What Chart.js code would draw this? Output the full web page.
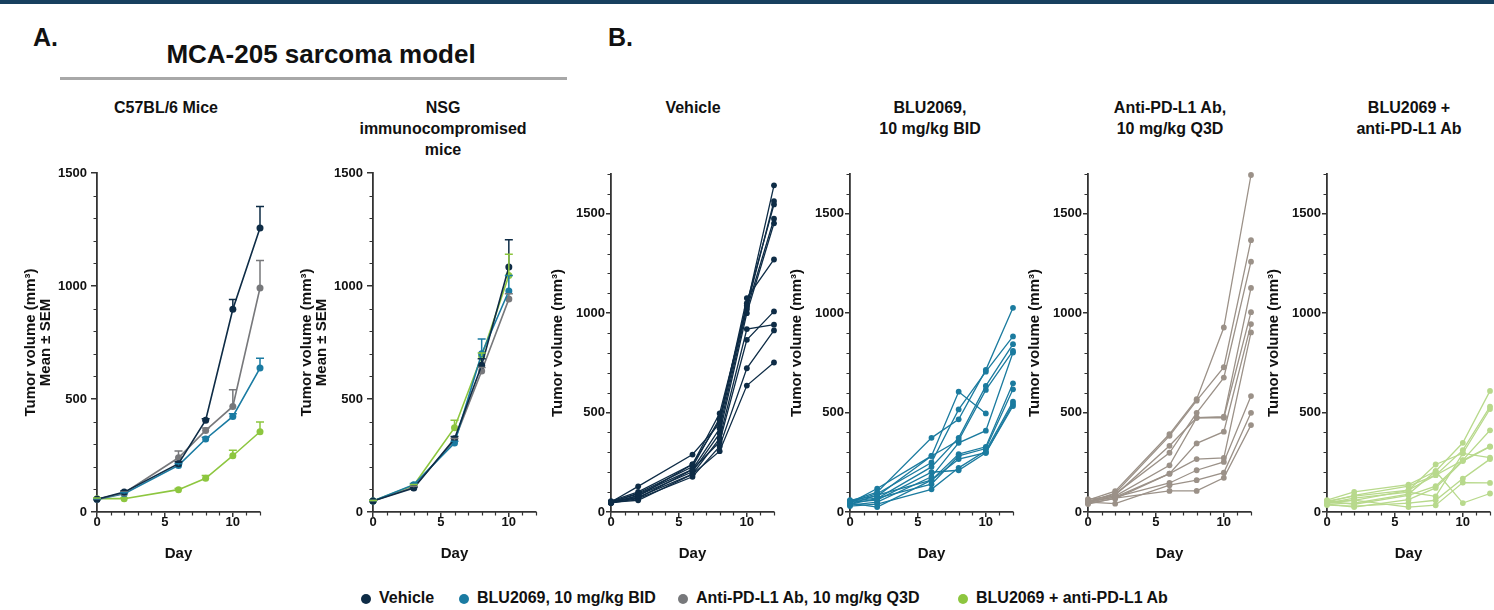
<!DOCTYPE html>
<html>
<head>
<meta charset="utf-8">
<script src="https://cdn.jsdelivr.net/npm/chart.js@4.4.1/dist/chart.umd.min.js"></script>
<style>
  body { margin: 0; background: #fff; font-family: 'Liberation Sans', Arial, sans-serif; }
  #page { position: relative; width: 1494px; height: 610px; overflow: hidden; background: #fff; }
  #band { position: absolute; left: 0; top: 0; width: 1494px; height: 4px; background: #17405f; }
  .panel { position: absolute; font-weight: bold; font-size: 25px; color: #111; line-height: 24px; top: 25px; }
  #model { position: absolute; left: 321px; top: 41px; transform: translateX(-50%); font-weight: bold; font-size: 26px; color: #111; white-space: nowrap; line-height: 26px; }
  #rule { position: absolute; left: 60px; top: 77px; width: 507px; height: 3px; background: #a8a8a8; }
  .hd { position: absolute; top: 97px; transform: translateX(-50%); font-weight: bold; font-size: 16px; color: #111; text-align: center; line-height: 21px; white-space: nowrap; }
  canvas.c { position: absolute; top: 150px; }
  .lg { position: absolute; top: 589px; font-weight: bold; font-size: 16px; color: #111; line-height: 18px; white-space: nowrap; }
  .lg span.dot { display: inline-block; width: 10px; height: 10px; border-radius: 50%; margin-right: 8px; vertical-align: -1px; }
</style>
</head>
<body>
<div id="page">
  <div id="band"></div>
  <div class="panel" style="left:33px">A.</div>
  <div class="panel" style="left:608px">B.</div>
  <div id="model">MCA-205 sarcoma model</div>
  <div id="rule"></div>

  <div class="hd" style="left:166px">C57BL/6 Mice</div>
  <div class="hd" style="left:443px">NSG<br>immunocompromised<br>mice</div>
  <div class="hd" style="left:693px">Vehicle</div>
  <div class="hd" style="left:930px">BLU2069,<br>10 mg/kg BID</div>
  <div class="hd" style="left:1170px">Anti-PD-L1 Ab,<br>10 mg/kg Q3D</div>
  <div class="hd" style="left:1409px">BLU2069 +<br>anti-PD-L1 Ab</div>

  <canvas class="c" id="chA1"></canvas>
  <canvas class="c" id="chA2"></canvas>
  <canvas class="c" id="chB1"></canvas>
  <canvas class="c" id="chB2"></canvas>
  <canvas class="c" id="chB3"></canvas>
  <canvas class="c" id="chB4"></canvas>

  <div class="lg" style="left:361px"><span class="dot" style="background:#0e2c46"></span>Vehicle</div>
  <div class="lg" style="left:459px"><span class="dot" style="background:#1a7ba2"></span>BLU2069, 10 mg/kg BID</div>
  <div class="lg" style="left:678px"><span class="dot" style="background:#77787b"></span>Anti-PD-L1 Ab, 10 mg/kg Q3D</div>
  <div class="lg" style="left:958px"><span class="dot" style="background:#8dc63f"></span>BLU2069 + anti-PD-L1 Ab</div>
</div>

<script>
// ---- data ----
const xTickValues = [0, 5, 10];
const yTickValues = [0, 500, 1000, 1500];

const daysC57 = [0, 2, 6, 8, 10, 12];
const c57Vehicle = [56, 88, 214, 406, 897, 1257];
const c57VehicleSem = [3, 5, 8, 7, 43, 95];
const c57Blu = [56, 81, 206, 323, 423, 637];
const c57BluSem = [3, 4, 7, 8, 12, 43];
const c57Pdl1 = [56, 84, 240, 361, 467, 991];
const c57Pdl1Sem = [3, 5, 30, 11, 74, 122];
const c57Combo = [59, 59, 99, 149, 249, 355];
const c57ComboSem = [3, 3, 5, 13, 24, 43];

const daysNSG = [0, 3, 6, 8, 10];
const nsgVehicle = [49, 106, 324, 649, 1084];
const nsgVehicleSem = [2, 5, 10, 29, 121];
const nsgBlu = [49, 121, 305, 700, 978];
const nsgBluSem = [2, 5, 8, 65, 69];
const nsgPdl1 = [49, 110, 317, 624, 942];
const nsgPdl1Sem = [2, 4, 8, 15, 24];
const nsgCombo = [49, 118, 373, 689, 1046];
const nsgComboSem = [2, 4, 33, 15, 94];

const daysB = [0, 2, 6, 8, 10, 12];
const vehicleMice = [
  [50, 129, 289, 446, 1038, 1643],
  [55, 101, 240, 496, 1031, 1564],
  [48, 95, 227, 471, 1050, 1547],
  [52, 90, 214, 420, 1020, 1475],
  [45, 84, 202, 395, 1000, 1452],
  [50, 80, 240, 460, 1076, 1270],
  [47, 75, 190, 370, 920, 942],
  [52, 70, 214, 353, 866, 1009],
  [45, 67, 177, 330, 723, 913],
  [48, 59, 190, 306, 636, 752]
];
const bluMice = [
  [55, 100, 373, 466, 715, 1027],
  [45, 118, 282, 605, 496, null],
  [50, 92, 249, 516, 706, 883],
  [40, 67, 227, 373, 634, 844],
  [60, 80, 282, 361, 614, 810],
  [35, 50, 177, 348, 409, 802],
  [45, 25, 160, 291, 328, 647],
  [55, 70, 140, 282, 319, 617],
  [30, 40, 114, 222, 308, 555],
  [50, 60, 200, 210, 298, 543],
  [40, 85, 160, 266, 298, 533]
];
const pdl1Mice = [
  [60, 105, 392, 567, 928, 1695],
  [50, 95, 383, 560, 728, 1367],
  [55, 90, 298, 499, 676, 1259],
  [45, 85, 333, 474, 479, 1127],
  [65, 80, 235, 474, 474, 1005],
  [50, 75, 193, 345, 404, 945],
  [45, 67, 193, 266, 272, 903],
  [55, 75, 146, 210, 252, 583],
  [50, 42, 135, 160, 198, 499],
  [40, 70, 106, 106, 172, 437]
];
const comboMice = [
  [60, 101, 138, 205, 348, 609],
  [50, 84, 130, 185, 311, 530],
  [45, 59, 109, 239, 295, 518],
  [55, 39, 84, 130, 261, 411],
  [40, 25, 62, 121, 256, 328],
  [45, 70, 100, 79, 295, 273],
  [35, 30, 45, 59, 168, 266],
  [50, 60, 25, 34, 148, 146],
  [40, 45, 90, 205, 45, 93],
  [55, 80, 110, 185, 260, 330]
];

// ---- styles ----
const FONT = "'Liberation Sans', Arial, sans-serif";
const axisColor = '#333333';
const navy = '#0e2c46', blue = '#1a7ba2', gray = '#77787b', green = '#8dc63f';
const blueB = '#1b7b9f', taupe = '#9b9188', lightGreen = '#b8d98c';

function pts(days, vals) {
  return days.map((d, i) => ({ x: d, y: vals[i] }));
}

function meanSet(color, days, vals, sem) {
  return {
    data: pts(days, vals), sem: sem,
    borderColor: color, backgroundColor: color, pointBackgroundColor: color,
    borderWidth: 1.6, pointRadius: 3.5, pointBorderWidth: 0, clip: false
  };
}

function miceSets(color, mice) {
  return mice.map(m => ({
    data: pts(daysB, m),
    borderColor: color, backgroundColor: color, pointBackgroundColor: color,
    borderWidth: 1.3, pointRadius: 2.9, pointBorderWidth: 0, clip: false
  }));
}

// small ticks between labelled ones
const minorTicks = {
  id: 'minorTicks',
  afterDraw(chart) {
    const { ctx, scales: { x, y } } = chart;
    ctx.save();
    ctx.strokeStyle = axisColor;
    ctx.lineWidth = 1.2;
    ctx.beginPath();
    for (let v = 1; v <= x.max; v++) {
      if (v % 5 === 0) continue;
      const px = Math.round(x.getPixelForValue(v)) + 0.5;
      ctx.moveTo(px, y.bottom); ctx.lineTo(px, y.bottom + 3.5);
    }
    for (let v = 100; v <= y.max; v += 100) {
      if (v % 500 === 0) continue;
      const py = Math.round(y.getPixelForValue(v)) + 0.5;
      ctx.moveTo(x.left, py); ctx.lineTo(x.left - 3.5, py);
    }
    ctx.stroke();
    ctx.restore();
  }
};

// upper SEM bars
const errorBars = {
  id: 'errorBars',
  afterDatasetsDraw(chart) {
    const { ctx, scales: { x, y } } = chart;
    chart.data.datasets.forEach(ds => {
      if (!ds.sem) return;
      ctx.save();
      ctx.strokeStyle = ds.borderColor;
      ctx.lineWidth = 1.5;
      ds.data.forEach((p, i) => {
        const px = x.getPixelForValue(p.x);
        const py = y.getPixelForValue(p.y);
        const pt = y.getPixelForValue(p.y + ds.sem[i]);
        ctx.beginPath();
        ctx.moveTo(px, py); ctx.lineTo(px, pt);
        ctx.moveTo(px - 4, pt); ctx.lineTo(px + 4, pt);
        ctx.stroke();
      });
      ctx.restore();
    });
  }
};

function build(id, axisX, yMax, padTop, yTitle, titlePad, tickLen, tickPad, datasets) {
  const yw = 100;
  const cv = document.getElementById(id);
  cv.width = yw + 163 + 4;
  cv.height = 420;
  cv.style.left = (axisX - yw) + 'px';
  const tickFont = { family: FONT, size: 13, weight: 'bold' };
  new Chart(cv, {
    type: 'line',
    data: { datasets: datasets },
    options: {
      responsive: false,
      animation: false,
      events: [],
      layout: { padding: { top: padTop, right: 4, bottom: 0, left: 0 } },
      plugins: { legend: { display: false }, tooltip: { enabled: false } },
      scales: {
        x: {
          type: 'linear', min: 0, max: 12,
          afterFit: s => { s.height = 58; },
          afterBuildTicks: s => { s.ticks = xTickValues.map(v => ({ value: v })); },
          ticks: { padding: -2, color: '#111', font: tickFont, maxRotation: 0, callback: v => String(v) },
          grid: { drawOnChartArea: false, tickLength: 5, color: axisColor, lineWidth: 1.5 },
          border: { color: axisColor, width: 1.8 },
          title: { display: true, text: 'Day', color: '#111', font: { family: FONT, size: 15, weight: 'bold' }, padding: { top: 0, bottom: 7 } }
        },
        y: {
          type: 'linear', min: 0, max: yMax,
          afterFit: s => { s.width = yw; },
          afterBuildTicks: s => { s.ticks = yTickValues.map(v => ({ value: v })); },
          ticks: { padding: tickPad, color: '#111', font: tickFont, callback: v => String(v) },
          grid: { drawOnChartArea: false, tickLength: tickLen, color: axisColor, lineWidth: 1.5 },
          border: { color: axisColor, width: 1.8 },
          title: { display: true, text: yTitle, color: '#111', font: { family: FONT, size: 15, weight: 'bold', lineHeight: 1 }, padding: { top: titlePad, bottom: 0 } }
        }
      }
    },
    plugins: [minorTicks, errorBars]
  });
}

const meanTitle = ['Tumor volume (mm³)', 'Mean ± SEM'];
const miceTitle = 'Tumor volume (mm³)';

build('chA1', 97, 1500, 23, meanTitle, 26.5, 6, 4, [
  meanSet(navy, daysC57, c57Vehicle, c57VehicleSem),
  meanSet(gray, daysC57, c57Pdl1, c57Pdl1Sem),
  meanSet(blue, daysC57, c57Blu, c57BluSem),
  meanSet(green, daysC57, c57Combo, c57ComboSem)
]);
build('chA2', 373, 1500, 23, meanTitle, 26.5, 6, 4, [
  meanSet(navy, daysNSG, nsgVehicle, nsgVehicleSem),
  meanSet(blue, daysNSG, nsgBlu, nsgBluSem),
  meanSet(gray, daysNSG, nsgPdl1, nsgPdl1Sem),
  meanSet(green, daysNSG, nsgCombo, nsgComboSem)
]);
build('chB1', 611, 1700, 24, miceTitle, 39.5, 5, 1, miceSets(navy, vehicleMice));
build('chB2', 850, 1700, 24, miceTitle, 39.5, 5, 1, miceSets(blueB, bluMice));
build('chB3', 1088, 1700, 24, miceTitle, 39.5, 5, 1, miceSets(taupe, pdl1Mice));
build('chB4', 1327, 1700, 24, miceTitle, 39.5, 5, 1, miceSets(lightGreen, comboMice));
</script>
</body>
</html>
